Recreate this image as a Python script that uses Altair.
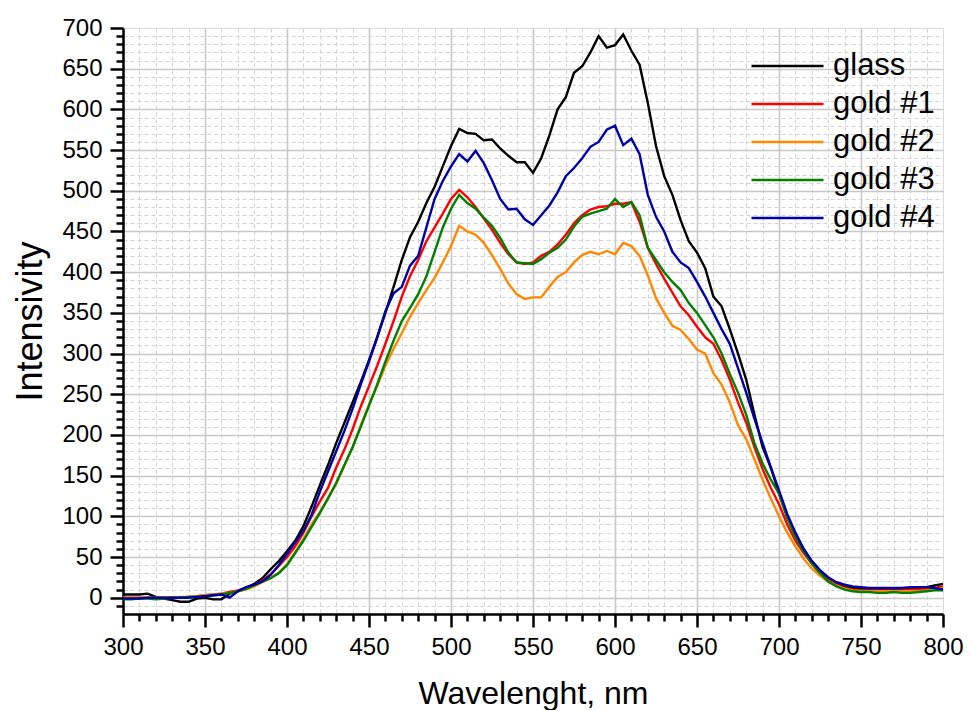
import altair as alt
import pandas as pd

wavelength = list(range(300, 801, 5))

series_names = ["glass", "gold #1", "gold #2", "gold #3", "gold #4"]
series_colors = ["#000000", "#FF0000", "#FF8800", "#008000", "#0000A8"]

glass = [4, 4, 4, 5, 1, -1, -3, -5, -5, -1, 0, -2, -2, 5, 8, 12, 17, 24, 35, 45,
         57, 70, 88, 112, 138, 163, 190, 215, 240, 265, 292, 320, 350, 382, 415, 443, 462, 485, 505, 530,
         555, 576, 571, 570, 562, 563, 552, 543, 535, 535, 522, 540, 568, 600, 615, 645, 653, 670, 690, 676,
         679, 692, 672, 655, 608, 555, 518, 495, 464, 438, 424, 405, 370, 358, 330, 300, 268, 225, 185, 160,
         128, 100, 78, 60, 45, 33, 24, 18, 14, 12, 11, 10, 10, 10, 10, 11, 11, 11, 13, 15, 17]

gold1 = [0, 0, 0, 0, 0, 0, 0, 0, 1, 2, 3, 4, 5, 7, 9, 12, 15, 21, 29, 39,
         50, 63, 80, 100, 118, 135, 160, 182, 207, 235, 260, 285, 312, 340, 370, 395, 415, 438, 455, 472,
         490, 501, 492, 480, 466, 452, 436, 422, 412, 410, 412, 420, 425, 434, 446, 460, 470, 477, 480, 481,
         484, 484, 486, 462, 430, 410, 392, 375, 358, 347, 333, 320, 312, 292, 268, 240, 215, 185, 158, 135,
         115, 90, 70, 55, 42, 30, 22, 16, 12, 10, 9, 9, 9, 9, 9, 9, 10, 10, 11, 12, 14]

gold2 = [0, 0, 0, 0, 0, 0, 0, 1, 1, 2, 3, 4, 5, 6, 8, 10, 14, 19, 24, 31,
         41, 56, 72, 90, 105, 122, 140, 162, 185, 212, 237, 260, 285, 306, 325, 345, 362, 378, 393, 412,
         432, 457, 450, 446, 436, 421, 404, 386, 373, 367, 369, 369, 382, 394, 400, 412, 421, 425, 422, 426,
         422, 436, 432, 420, 396, 368, 350, 334, 329, 318, 305, 300, 276, 262, 240, 212, 195, 170, 145, 122,
         100, 80, 63, 48, 36, 27, 20, 15, 11, 9, 8, 8, 8, 8, 8, 8, 8, 8, 9, 10, 12]

gold3 = [-2, -2, -1, -1, -2, -1, 0, 0, 1, 1, 2, 3, 4, 6, 8, 11, 15, 20, 24, 30,
         40, 55, 70, 87, 104, 122, 141, 163, 185, 210, 236, 262, 290, 316, 340, 356, 373, 395, 425, 455,
         478, 495, 485, 478, 467, 457, 442, 424, 412, 411, 410, 416, 424, 430, 440, 456, 468, 472, 475, 478,
         490, 480, 486, 470, 430, 415, 400, 388, 378, 362, 350, 335, 320, 300, 275, 252, 225, 190, 165, 145,
         128, 98, 75, 57, 42, 30, 20, 14, 10, 8, 7, 7, 6, 6, 7, 6, 6, 7, 8, 9, 9]

gold4 = [-1, -1, -1, 0, 0, 0, 0, 0, 0, 1, 2, 3, 4, 0, 8, 13, 16, 20, 28, 40,
         54, 68, 82, 102, 130, 155, 180, 205, 232, 262, 290, 320, 352, 374, 382, 408, 420, 455, 490, 512,
         530, 545, 536, 549, 534, 513, 490, 477, 478, 465, 458, 470, 482, 498, 518, 528, 540, 554, 560, 575,
         580, 556, 564, 545, 495, 468, 450, 425, 412, 405, 388, 370, 350, 330, 312, 282, 252, 220, 190, 160,
         132, 103, 80, 60, 45, 34, 25, 19, 16, 14, 13, 12, 12, 12, 12, 12, 13, 13, 13, 12, 10]

x_ticks = list(range(300, 801, 10))
y_ticks = list(range(-10, 701, 10))

series_values = [glass, gold1, gold2, gold3, gold4]
rows = []
for name, vals in zip(series_names, series_values):
    for w, v in zip(wavelength, vals):
        rows.append({"wavelength": w, "intensity": v, "series": name})
df = pd.DataFrame(rows)

FONT = "Liberation Sans"

def axis_common(title, values, edge, title_size, title_pad):
    return alt.Axis(
        title=title,
        values=values,
        labelExpr="datum.value % 50 == 0 ? datum.label : ''",
        labelOverlap=False,
        labelFlush=False,
        labelFont=FONT,
        labelFontSize=24,
        labelColor="black",
        labelPadding=8,
        titleFont=FONT,
        titleFontSize=title_size,
        titleFontWeight="normal",
        titleColor="black",
        titlePadding=title_pad,
        domainColor="black",
        domainWidth=2.5,
        tickColor="black",
        tickWidth=2.5,
        tickSize={"condition": {"test": "datum.value % 50 == 0", "value": 13}, "value": 7},
        grid=True,
        gridColor={"condition": {"test": "datum.value % 50 == 0", "value": "#c8c8c8"}, "value": "#d3d3d3"},
        gridDash={"condition": {"test": "datum.value % 50 == 0", "value": []}, "value": [4, 3]},
        gridWidth={"condition": {"test": "datum.value % 50 == 0", "value": 1.6}, "value": 1},
        gridOpacity={"condition": {"test": "datum.value == " + str(edge), "value": 0}, "value": 1},
    )

chart = alt.Chart(df).mark_line(strokeWidth=2.4, clip=True).encode(
    x=alt.X("wavelength:Q", scale=alt.Scale(domain=[300, 800], nice=False, zero=False),
            axis=axis_common("Wavelenght, nm", x_ticks, 800, 32, 19)),
    y=alt.Y("intensity:Q", scale=alt.Scale(domain=[-20, 700], nice=False, zero=False),
            axis=axis_common("Intensivity", y_ticks, 700, 36, 12)),
    color=alt.Color("series:N",
                    scale=alt.Scale(domain=series_names, range=series_colors),
                    sort=series_names,
                    legend=alt.Legend(
                        title=None, orient="none", legendX=627, legendY=26,
                        symbolType="stroke", symbolSize=5184, symbolStrokeWidth=2.5,
                        labelFont=FONT, labelFontSize=31, labelColor="black",
                        labelOffset=8, clipHeight=24, rowPadding=7, padding=0,
                    )),
    detail="series:N",
).properties(
    width=820, height=586,
    padding={"left": 115, "top": 20, "right": 20, "bottom": 96},
    autosize=alt.AutoSizeParams(type="none"),
).configure_view(stroke=None).configure(background="white")

chart.save("out.html", embed_options={"renderer": "svg", "actions": False})
